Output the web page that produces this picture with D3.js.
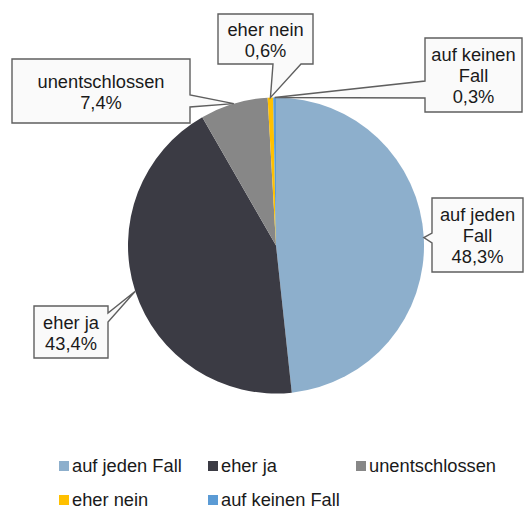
<!DOCTYPE html>
<html>
<head>
<meta charset="utf-8">
<script src="https://cdn.jsdelivr.net/npm/d3@7"></script>
<style>
  html, body { margin: 0; padding: 0; background: #fff; }
  svg { display: block; }
  text { font-family: "Liberation Sans", Arial, sans-serif; }
</style>
</head>
<body>
<svg id="chart" width="526" height="511"></svg>
<script>
// ---- data ----
const categories = ["auf jeden Fall", "eher ja", "unentschlossen", "eher nein", "auf keinen Fall"];
const values = [48.3, 43.4, 7.4, 0.6, 0.3];
const labelLines = [
  ["auf jeden", "Fall", "48,3%"],
  ["eher ja", "43,4%"],
  ["unentschlossen", "7,4%"],
  ["eher nein", "0,6%"],
  ["auf keinen", "Fall", "0,3%"]
];
const colors = ["#8DAFCC", "#3B3B44", "#878787", "#FFC000", "#5B9BD5"];

// ---- layout (positions, not data) ----
const W = 526, H = 511;
const cx = 276, cy = 245.5, R = 148;
const fontSize = 18.3;
// callout boxes: x0,y0,x1,y1, side of wedge, wedge start/end along side
const boxes = [
  {x0: 432, y0: 198, x1: 523, y1: 272, side: "left",   a: 233, b: 243},
  {x0: 34,  y0: 306, x1: 108, y1: 358, side: "right",  a: 313, b: 322},
  {x0: 12,  y0: 59,  x1: 190, y1: 123, side: "right",  a: 95,  b: 107},
  {x0: 218, y0: 14,  x1: 313, y1: 64,  side: "bottom", a: 273, b: 301},
  {x0: 425, y0: 38,  x1: 522, y1: 112, side: "left",   a: 81,  b: 98}
];

const svg = d3.select("#chart");

const pie = d3.pie().sort(null).value(d => d.v);
const arcs = pie(categories.map((c, i) => ({c, v: values[i], i})));
const arc = d3.arc().innerRadius(0).outerRadius(R);
const color = d3.scaleOrdinal().domain(categories).range(colors);

const g = svg.append("g").attr("transform", `translate(${cx},${cy})`);
g.selectAll("path.slice")
  .data(arcs)
  .join("path")
  .attr("class", "slice")
  .attr("d", arc)
  .attr("fill", d => color(d.data.c));

// callouts
function calloutPath(b, tip) {
  const pts = [];
  const TL = [b.x0, b.y0], TR = [b.x1, b.y0], BR = [b.x1, b.y1], BL = [b.x0, b.y1];
  if (b.side === "top") {
    pts.push(TL, [b.a, b.y0], tip, [b.b, b.y0], TR, BR, BL);
  } else if (b.side === "right") {
    pts.push(TL, TR, [b.x1, b.a], tip, [b.x1, b.b], BR, BL);
  } else if (b.side === "bottom") {
    pts.push(TL, TR, BR, [b.b, b.y1], tip, [b.a, b.y1], BL);
  } else {
    pts.push(TL, TR, BR, BL, [b.x0, b.b], tip, [b.x0, b.a]);
  }
  return "M" + pts.map(p => p.join(",")).join("L") + "Z";
}

const lh = 21;
arcs.forEach((d, i) => {
  const mid = (d.startAngle + d.endAngle) / 2;
  const tip = [cx + R * Math.sin(mid), cy - R * Math.cos(mid)];
  const b = boxes[i];
  svg.append("path")
    .attr("d", calloutPath(b, tip))
    .attr("fill", "#FAFAFA")
    .attr("stroke", "#5F5F5F")
    .attr("stroke-width", 1.4)
    .attr("stroke-linejoin", "miter");
  const lines = labelLines[i];
  const bcx = (b.x0 + b.x1) / 2, bcy = (b.y0 + b.y1) / 2;
  const first = bcy - (lines.length - 1) * lh / 2 + 7;
  const t = svg.append("text")
    .attr("text-anchor", "middle")
    .attr("font-size", fontSize)
    .attr("fill", "#1A1A1A");
  lines.forEach((ln, k) => {
    t.append("tspan").attr("x", bcx).attr("y", first + k * lh).text(ln);
  });
});

// legend
const legendPos = [
  {x: 59, y: 461}, {x: 208, y: 461}, {x: 356, y: 461},
  {x: 59, y: 495}, {x: 208, y: 495}
];
const lg = svg.append("g");
categories.forEach((c, i) => {
  const p = legendPos[i];
  lg.append("rect").attr("x", p.x).attr("y", p.y).attr("width", 10).attr("height", 10)
    .attr("fill", color(c));
  lg.append("text").attr("x", p.x + 13).attr("y", p.y + 11)
    .attr("font-size", fontSize).attr("fill", "#1A1A1A").text(c);
});
</script>
</body>
</html>
